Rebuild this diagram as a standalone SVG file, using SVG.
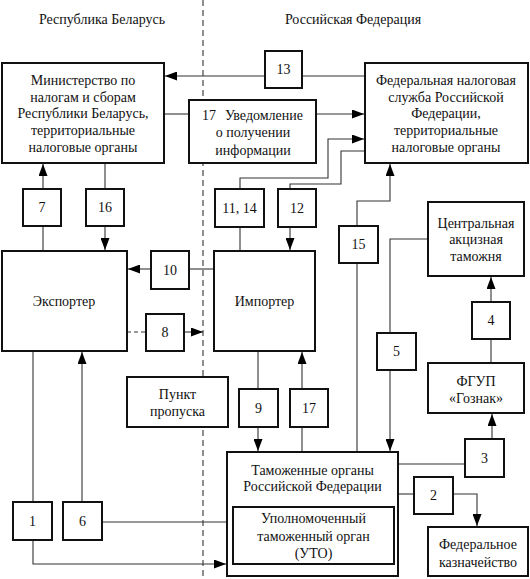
<svg xmlns="http://www.w3.org/2000/svg" width="530" height="579" viewBox="0 0 530 579" font-family="'Liberation Serif', 'DejaVu Serif', 'Times New Roman', serif">
<style>
.box{fill:#fff;stroke:#111;stroke-width:2}
.ln{fill:none;stroke:#333;stroke-width:1.1}
.ar{marker-end:url(#ah)}
.dash{fill:none;stroke:#555;stroke-width:1.3;stroke-dasharray:6 4}
text{font-family:'Liberation Serif','DejaVu Serif','Times New Roman',serif;font-size:14px;fill:#111;text-anchor:middle}
</style>
<defs>
<marker id="ah" markerUnits="userSpaceOnUse" markerWidth="12" markerHeight="9" refX="12" refY="4.5" orient="auto">
<path d="M0,0 L12,4.5 L0,9 z" fill="#000"/>
</marker>
</defs>
<rect x="0" y="0" width="530" height="579" fill="#fff"/>
<line class="dash" x1="203" y1="0" x2="203" y2="579"/>
<text x="102" y="24">Республика Беларусь</text>
<text x="353" y="24">Российская Федерация</text>

<g id="connectors">
<path class="ln ar" d="M265,76 H165"/>
<path class="ln" d="M365,76 H302"/>
<path class="ln" d="M164,114 H189"/>
<path class="ln ar" d="M316,114 H364"/>
<path class="ln ar" d="M240,189 V178 H328 V139 H364"/>
<path class="ln" d="M365,151 H341 V184 H290 V189"/>
<path class="ln ar" d="M290,227 V250"/>
<path class="ln" d="M240,251 V227"/>
<path class="ln" d="M105,163 V189"/>
<path class="ln ar" d="M105,226 V250"/>
<path class="ln" d="M43,251 V226"/>
<path class="ln ar" d="M43,189 V164"/>
<path class="ln" d="M214,269 H189"/>
<path class="ln ar" d="M151,269 H128"/>
<path class="ln" d="M127,332 H146" stroke-dasharray="4 3"/>
<path class="ln ar" d="M184,332 H203"/>
<path class="ln ar" d="M357,226 V201 H390 V164"/>
<path class="ln" d="M357,452 V263"/>
<path class="ln" d="M428,239 H390 V333"/>
<path class="ln ar" d="M390,370 V451"/>
<path class="ln" d="M491,363 V339"/>
<path class="ln ar" d="M491,302 V277"/>
<path class="ln" d="M398,464 H465"/>
<path class="ln ar" d="M492,439 V414"/>
<path class="ln" d="M398,494 H414"/>
<path class="ln ar" d="M453,494 H477 V526"/>
<path class="ln" d="M258,351 V389"/>
<path class="ln ar" d="M258,427 V451"/>
<path class="ln" d="M302,452 V427"/>
<path class="ln ar" d="M302,389 V352"/>
<path class="ln" d="M33,351 V502"/>
<path class="ln ar" d="M33,540 V564 H226"/>
<path class="ln" d="M227,522 H102"/>
<path class="ln ar" d="M82,502 V352"/>
</g>

<g id="ministry">
<rect class="box" x="2" y="63" width="162" height="100"/>
<text x="83" y="85">Министерство по</text>
<text x="83" y="102">налогам и сборам</text>
<text x="83" y="118">Республики Беларусь,</text>
<text x="83" y="135">территориальные</text>
<text x="83" y="152">налоговые органы</text>
</g>
<g id="fns">
<rect class="box" x="365" y="63" width="163" height="100"/>
<text x="446" y="85">Федеральная налоговая</text>
<text x="446" y="102">служба Российской</text>
<text x="446" y="118">Федерации,</text>
<text x="446" y="135">территориальные</text>
<text x="446" y="152">налоговые органы</text>
</g>
<g id="notification">
<rect class="box" x="189" y="100" width="127" height="63"/>
<text x="253" y="120"><tspan x="209">17</tspan><tspan x="264">Уведомление</tspan></text>
<text x="253" y="137">о получении</text>
<text x="253" y="155">информации</text>
</g>
<g id="n13"><rect class="box" x="265" y="51" width="37" height="37"/><text x="283.5" y="74">13</text></g>
<g id="n7"><rect class="box" x="23" y="189" width="38" height="37"/><text x="42" y="212">7</text></g>
<g id="n16"><rect class="box" x="86" y="189" width="38" height="37"/><text x="105" y="212">16</text></g>
<g id="n11_14"><rect class="box" x="215" y="189" width="49" height="38"/><text x="239.5" y="213">11, 14</text></g>
<g id="n12"><rect class="box" x="278" y="189" width="38" height="38"/><text x="297" y="213">12</text></g>
<g id="n15"><rect class="box" x="339" y="226" width="39" height="37"/><text x="358.5" y="249">15</text></g>
<g id="n10"><rect class="box" x="151" y="251" width="38" height="38"/><text x="170" y="275">10</text></g>
<g id="n8"><rect class="box" x="146" y="314" width="38" height="37"/><text x="165" y="337">8</text></g>
<g id="n5"><rect class="box" x="377" y="333" width="39" height="37"/><text x="396.5" y="356">5</text></g>
<g id="n4"><rect class="box" x="472" y="302" width="38" height="37"/><text x="491" y="325">4</text></g>
<g id="n9"><rect class="box" x="239" y="389" width="39" height="38"/><text x="258.5" y="413">9</text></g>
<g id="n17"><rect class="box" x="290" y="389" width="38" height="38"/><text x="309" y="413">17</text></g>
<g id="n3"><rect class="box" x="465" y="439" width="39" height="38"/><text x="484.5" y="463">3</text></g>
<g id="n2"><rect class="box" x="414" y="477" width="39" height="37"/><text x="433.5" y="500">2</text></g>
<g id="n1"><rect class="box" x="13" y="502" width="39" height="38"/><text x="32.5" y="526">1</text></g>
<g id="n6"><rect class="box" x="63" y="502" width="39" height="38"/><text x="82.5" y="526">6</text></g>

<g id="exporter">
<rect class="box" x="2" y="251" width="125" height="100"/>
<text x="64" y="306">Экспортер</text>
</g>
<g id="importer">
<rect class="box" x="214" y="251" width="101" height="100"/>
<text x="264.5" y="306">Импортер</text>
</g>
<g id="excise">
<rect class="box" x="428" y="202" width="96" height="74"/>
<text x="476" y="228">Центральная</text>
<text x="476" y="244">акцизная</text>
<text x="476" y="261">таможня</text>
</g>
<g id="goznak">
<rect class="box" x="428" y="363" width="96" height="50"/>
<text x="476" y="386">ФГУП</text>
<text x="476" y="403">«Гознак»</text>
</g>
<g id="checkpoint">
<rect class="box" x="127" y="377" width="101" height="50"/>
<text x="177.5" y="399">Пункт</text>
<text x="177.5" y="416">пропуска</text>
</g>
<g id="customs">
<rect class="box" x="227" y="452" width="171" height="124"/>
<text x="312.5" y="475">Таможенные органы</text>
<text x="312.5" y="491">Российской Федерации</text>
</g>
<g id="uto">
<rect class="box" x="233" y="507" width="161" height="57"/>
<text x="313.5" y="523">Уполномоченный</text>
<text x="313.5" y="541">таможенный орган</text>
<text x="313.5" y="558">(УТО)</text>
</g>
<g id="treasury">
<rect class="box" x="428" y="527" width="100" height="49"/>
<text x="478" y="549">Федеральное</text>
<text x="478" y="567">казначейство</text>
</g>
</svg>
